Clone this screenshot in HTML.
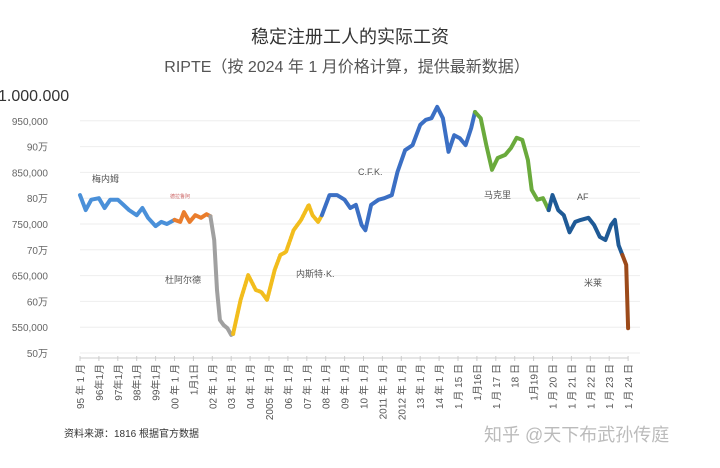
<!DOCTYPE html>
<html><head><meta charset="utf-8">
<style>
body{margin:0;background:#fff;width:720px;height:463px;overflow:hidden;font-family:"Liberation Sans","Noto Sans CJK SC",sans-serif;}
svg text{font-family:"Liberation Sans","Noto Sans CJK SC",sans-serif;}
</style></head><body>
<svg id="chart" width="720" height="463" xmlns="http://www.w3.org/2000/svg">
<text x="350" y="43" text-anchor="middle" font-size="18" fill="#333">稳定注册工人的实际工资</text>
<text x="347" y="72" text-anchor="middle" font-size="16" fill="#555">RIPTE（按 2024 年 1 月价格计算，提供最新数据）</text>
<text x="-2" y="101" font-size="16" fill="#333">1.000.000</text>
<text x="64" y="437" font-size="10" fill="#333">资料来源：1816 根据官方数据</text>
<text x="484" y="441" font-size="18" fill="#bbb">知乎 @天下布武孙传庭</text>
<g id="grid"></g><g id="yt"></g><g id="xt"></g><g id="lines"></g><g id="labels"></g>
</svg>
<script>
const yTickValues=[950000,900000,850000,800000,750000,700000,650000,600000,550000,500000];
const yTickLabels=["950,000","90万","850,000","80万","750,000","70万","650,000","60万","550,000","50万"];
const xTickLabels=["95 年 1 月","96年1月","97年1月","98年1月","99年1月","00 年 1 月","1月1日","02 年 1 月","03 年 1 月","04 年 1 月","2005 年 1 月","06 年 1 月","07 年 1 月","08 年 1 月","09 年 1 月","10 年 1 月","2011 年 1 月","2012 年 1 月","13 年 1 月","14 年 1 月","1 月 15 日","1月16日","1 月 17 日","18 日","1月19日","1 月 20 日","1 月 21 日","1 月 22 日","1 月 23 日","1 月 24 日"];
const menemT=[1995.0,1995.3,1995.6,1996.0,1996.3,1996.6,1997.0,1997.3,1997.6,1998.0,1998.3,1998.6,1999.0,1999.3,1999.6,2000.0];
const menemV=[806,777,797,800,781,797,797,787,777,767,781,762,746,754,750,758];
const delaruaT=[2000.0,2000.3,2000.5,2000.8,2001.1,2001.4,2001.7,2001.9];
const delaruaV=[758,754,773,754,767,762,769,765];
const duhaldeT=[2001.9,2002.1,2002.25,2002.4,2002.6,2002.8,2003.0,2003.1];
const duhaldeV=[765,719,622,564,554,548,535,537];
const nkT=[2003.1,2003.5,2003.9,2004.3,2004.6,2004.9,2005.3,2005.6,2005.9,2006.3,2006.7,2007.1,2007.3,2007.6,2007.8];
const nkV=[537,603,651,622,618,603,661,690,696,738,758,787,767,754,767];
const cfkT=[2007.8,2008.2,2008.6,2009.0,2009.3,2009.6,2009.9,2010.1,2010.4,2010.8,2011.1,2011.5,2011.8,2012.2,2012.6,2013.0,2013.3,2013.6,2013.9,2014.2,2014.5,2014.8,2015.1,2015.4,2015.7,2015.9];
const cfkV=[767,806,806,797,781,787,748,738,787,797,800,806,851,893,903,942,952,955,977,955,890,922,916,903,936,967];
const macriT=[2015.9,2016.2,2016.5,2016.8,2017.1,2017.5,2017.8,2018.1,2018.4,2018.7,2018.9,2019.2,2019.5,2019.8];
const macriV=[967,955,903,855,878,884,897,917,913,874,816,797,800,777];
const afT=[2019.8,2020.0,2020.3,2020.6,2020.9,2021.2,2021.5,2021.9,2022.2,2022.5,2022.8,2023.1,2023.3,2023.5,2023.7];
const afV=[777,806,777,767,734,754,758,762,748,725,719,748,758,709,690];
const mileiT=[2023.7,2023.9,2024.0];
const mileiV=[690,671,548];
const X=t=>80+(t-1995)*18.9;
const Y=v=>95+(1000000-v)/500000*258;
const NS="http://www.w3.org/2000/svg";
function mk(tag,attrs,parent){const e=document.createElementNS(NS,tag);for(const k in attrs)e.setAttribute(k,attrs[k]);document.getElementById(parent).appendChild(e);return e;}
yTickValues.forEach((v,i)=>{
 const g=mk('line',{x1:80,x2:640,y1:Y(v),y2:Y(v),stroke:'#eee','stroke-width':1},'grid');
 
 
 const t=mk('text',{x:48,y:Y(v)+4,'text-anchor':'end','font-size':10,fill:'#666'},'yt');
 t.textContent=yTickLabels[i];
 
 
});
const ax=mk('line',{x1:80,x2:628,y1:358,y2:358,stroke:'#ccc'},'xt');


xTickLabels.forEach((l,i)=>{
 const x=X(1995+i);
 const tk=mk('line',{x1:x,x2:x,y1:356,y2:361,stroke:'#ccc'},'xt');
 
 
 const t=mk('text',{x:0,y:0,'text-anchor':'end','font-size':10,fill:'#555',transform:`translate(${x+4},364) rotate(-90)`},'xt');
 t.textContent=l;
 
 
});
const segs=[[menemT,menemV,'#4a90d9','series-menem',''],[delaruaT,delaruaV,'#ea7d2c','series-de-la-rua',''],[duhaldeT,duhaldeV,'#a0a0a0','series-duhalde',''],[nkT,nkV,'#f2bd1d','series-nestor-kirchner','2 1.5'],[cfkT,cfkV,'#3b6fc4','series-cfk',''],[macriT,macriV,'#6aaa3c','series-macri',''],[afT,afV,'#1f5a96','series-alberto-fernandez',''],[mileiT,mileiV,'#9c4a1a','series-milei','']];
segs.forEach(s=>{
 const d=s[0].map((t,i)=>(i?'L':'M')+X(t).toFixed(1)+','+Y(s[1][i]*1000).toFixed(1)).join('');
 const p=mk('path',{d:d,fill:'none',stroke:s[2],'stroke-width':4,'stroke-linejoin':'round','stroke-linecap':'round'},'lines');
 if(s[4])p.setAttribute('stroke-dasharray',s[4]);
 
 
});
const labs=[[92,182,'梅内姆',9,'#555'],[170,198,'德拉鲁阿',5,'#c66'],[165,283,'杜阿尔德',9,'#555'],[296,277,'内斯特·K.',9,'#555'],[358,175,'C.F.K.',9,'#555'],[484,198,'马克里',9,'#555'],[577,200,'AF',9,'#555'],[584,286,'米莱',9,'#555']];
labs.forEach(l=>{
 const t=mk('text',{x:l[0],y:l[1],'font-size':l[3],fill:l[4]},'labels');
 t.textContent=l[2];
 
 
});
</script>
</body></html>
